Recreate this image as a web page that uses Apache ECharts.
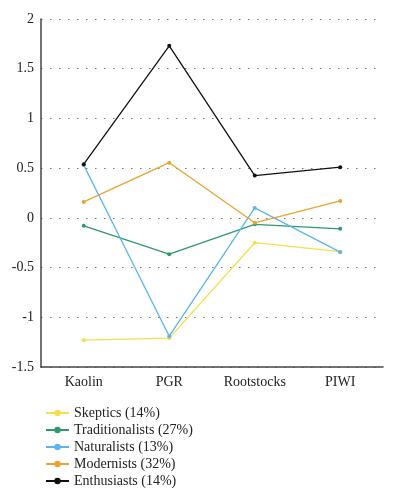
<!DOCTYPE html>
<html style="height: 100%">
<head>
<meta charset="utf-8">
<script src="https://cdn.jsdelivr.net/npm/echarts@6/dist/echarts.min.js"></script>
</head>
<body style="height: 100%; margin: 0; background: #fff">
<div id="container" style="width: 398px; height: 500px"></div>
<script type="text/javascript">
var categories = ['Kaolin', 'PGR', 'Rootstocks', 'PIWI'];
var names = ['Skeptics (14%)', 'Traditionalists (27%)', 'Naturalists (13%)', 'Modernists (32%)', 'Enthusiasts (14%)'];
var skeptics = [-1.23, -1.21, -0.25, -0.34];
var traditionalists = [-0.08, -0.365, -0.065, -0.11];
var naturalists = [0.53, -1.19, 0.10, -0.345];
var modernists = [0.16, 0.555, -0.05, 0.17];
var enthusiasts = [0.54, 1.73, 0.425, 0.51];
var colors = ['#f3df4d', '#2e9a6c', '#5db5ea', '#e9a232', '#111111'];

var font = '"Liberation Serif", "DejaVu Serif", serif';
var allData = [skeptics, traditionalists, naturalists, modernists, enthusiasts];

var series = [];
for (var i = 0; i < names.length; i++) {
    series.push({
        name: names[i],
        type: 'line',
        data: allData[i],
        symbol: 'circle',
        symbolSize: 4,
        lineStyle: { width: 1.3, color: colors[i] },
        itemStyle: { color: colors[i] }
    });
}

var myChart = echarts.init(document.getElementById('container'));
var option = {
    animation: false,
    color: colors,
    grid: { left: 41, right: 15, top: 19, bottom: 133, containLabel: false },
    legend: {
        orient: 'vertical',
        left: 40,
        top: 401,
        itemWidth: 23,
        itemHeight: 8,
        itemGap: 3,
        textStyle: { fontFamily: font, fontSize: 14, color: '#222' },
        data: names
    },
    xAxis: {
        type: 'category',
        data: categories,
        boundaryGap: true,
        axisLine: { onZero: false, lineStyle: { color: '#444', width: 1.5 } },
        axisTick: { show: false },
        axisLabel: { fontFamily: font, fontSize: 14, color: '#222', margin: 8 }
    },
    yAxis: {
        type: 'value',
        min: -1.5,
        max: 2,
        interval: 0.5,
        axisLine: { show: true, lineStyle: { color: '#444', width: 1.5 } },
        axisTick: { show: false },
        axisLabel: { fontFamily: font, fontSize: 14, color: '#222', margin: 7 },
        splitLine: { lineStyle: { type: [1.5, 7.5], color: '#777', width: 1.2 } }
    },
    series: series
};
myChart.setOption(option, true);
</script>
</body>
</html>
